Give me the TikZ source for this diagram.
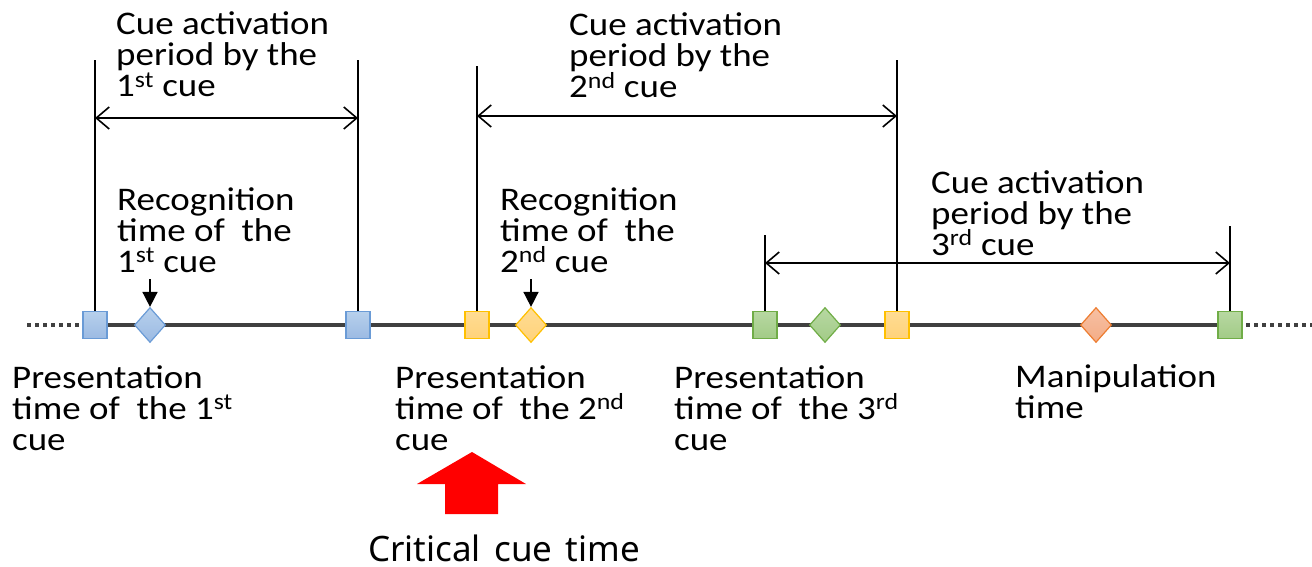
\documentclass[tikz,border=0pt]{standalone}
\usepackage{fontspec}
\setmainfont{Carlito}[FakeStretch=1.12]
\newfontfamily\critfont{Noto Sans}
\usetikzlibrary{arrows.meta,shapes.geometric}

\definecolor{tlgray}{HTML}{404040}
\definecolor{bluefillA}{HTML}{B7D0EC}
\definecolor{bluefillB}{HTML}{9BBAE3}
\definecolor{blueedge}{HTML}{6A9BD6}
\definecolor{yelfillA}{HTML}{FFDC93}
\definecolor{yelfillB}{HTML}{FFD27A}
\definecolor{yeledge}{HTML}{FFC000}
\definecolor{grnfillA}{HTML}{B7D8A2}
\definecolor{grnfillB}{HTML}{A2CB87}
\definecolor{grnedge}{HTML}{70AD47}
\definecolor{orgfillA}{HTML}{F7C0A3}
\definecolor{orgfillB}{HTML}{F3AC86}
\definecolor{orgedge}{HTML}{ED7D31}
\definecolor{bigred}{HTML}{FF0000}

\begin{document}
\begin{tikzpicture}[x=1pt,y=-1pt,
  lbl/.style={anchor=base west, inner sep=0pt, align=left,
              font=\fontsize{33}{31}\selectfont},
  sqbox/.style={rectangle, minimum width=24pt, minimum height=27pt,
                inner sep=0pt, line width=1.2pt},
  dmbox/.style={diamond, minimum width=31pt, minimum height=35pt,
                inner sep=0pt, line width=1.2pt},
  cblue/.style={draw=blueedge, top color=bluefillA, bottom color=bluefillB},
  cyel/.style={draw=yeledge, top color=yelfillA, bottom color=yelfillB},
  cgrn/.style={draw=grnedge, top color=grnfillA, bottom color=grnfillB},
  corg/.style={draw=orgedge, top color=orgfillA, bottom color=orgfillB},
  tline/.style={draw=tlgray, line width=4pt},
  dotline/.style={draw=tlgray, line width=4pt, dash pattern=on 4pt off 4pt},
  vline/.style={draw=black, line width=1.2pt},
  darr/.style={draw=black, line width=1.6pt,
               {Straight Barb[length=13pt,width=22pt]}-{Straight Barb[length=13pt,width=22pt]}},
  downarr/.style={draw=black, line width=1.6pt, -{Triangle[length=15pt,width=15pt]}}
]
\useasboundingbox (0,0) rectangle (1312,567);

% positions of the events on the time axis
\coordinate (p1) at (95,325);
\coordinate (p2) at (358,325);
\coordinate (p3) at (477,325);
\coordinate (p4) at (765,325);
\coordinate (p5) at (897,325);
\coordinate (p6) at (1230,325);
\coordinate (q1) at (150,325);
\coordinate (q2) at (531,325);
\coordinate (q3) at (825,325);
\coordinate (q4) at (1096,325);
\coordinate (axL) at (27,325);
\coordinate (axR) at (1312,325);

% time axis
\draw[dotline] (axL) -- (p1);
\draw[tline] (p1) -- (p6);
\draw[dotline] (p6) -- (axR);

% event markers
\node[sqbox,cblue] (s1) at (p1) {};
\node[dmbox,cblue] (d1) at (q1) {};
\node[sqbox,cblue] (s2) at (p2) {};
\node[sqbox,cyel]  (s3) at (p3) {};
\node[dmbox,cyel]  (d2) at (q2) {};
\node[sqbox,cgrn]  (s4) at (p4) {};
\node[dmbox,cgrn]  (d3) at (q3) {};
\node[sqbox,cyel]  (s5) at (p5) {};
\node[dmbox,corg]  (d4) at (q4) {};
\node[sqbox,cgrn]  (s6) at (p6) {};

% upper ends of the period boundaries
\coordinate (v1) at (95,60);
\coordinate (v2) at (358,60);
\coordinate (v3) at (477,66);
\coordinate (v5) at (897,60);
\coordinate (v4) at (765,235);
\coordinate (v6) at (1230,226);

\draw[vline] (s1.north) -- (v1);
\draw[vline] (s2.north) -- (v2);
\draw[vline] (s3.north) -- (v3);
\draw[vline] (s5.north) -- (v5);
\draw[vline] (s4.north) -- (v4);
\draw[vline] (s6.north) -- (v6);

% activation periods
\coordinate (a1l) at (95,118);
\coordinate (a1r) at (358,118);
\coordinate (a2l) at (477,116);
\coordinate (a2r) at (897,116);
\coordinate (a3l) at (765,263);
\coordinate (a3r) at (1230,263);
\draw[darr] (a1l) -- (a1r);
\draw[darr] (a2l) -- (a2r);
\draw[darr] (a3l) -- (a3r);

% recognition pointers
\coordinate (r1) at (150,279);
\coordinate (r2) at (531,279);
\draw[downarr] (r1) -- (d1.north);
\draw[downarr] (r2) -- (d2.north);

% labels (anchored at the baseline of their last line)
\node[lbl] (t1) at (116,97) {Cue activation\\period by the\\1\textsuperscript{st} cue};
\node[lbl] (t2) at (569,98) {Cue activation\\period by the\\2\textsuperscript{nd} cue};
\node[lbl] (t3) at (931,255) {Cue activation\\period by the\\3\textsuperscript{rd} cue};
\node[lbl] (t4) at (117,272) {Recognition\\time of~ the\\1\textsuperscript{st} cue};
\node[lbl] (t5) at (500,272) {Recognition\\time of~ the\\2\textsuperscript{nd} cue};
\node[lbl] (t6) at (12,450) {Presentation\\time of~ the 1\textsuperscript{st}\\cue};
\node[lbl] (t7) at (395,450) {Presentation\\time of~ the 2\textsuperscript{nd}\\cue};
\node[lbl] (t8) at (674,450) {Presentation\\time of~ the 3\textsuperscript{rd}\\cue};
\node[lbl] (t9) at (1015,418) {Manipulation\\time};

% critical cue marker
\fill[bigred] (445,514) -- (445,484) -- (417,484) -- (472,452)
  -- (526,484) -- (498,484) -- (498,514) -- cycle;
\node[anchor=base west, inner sep=0pt, font=\critfont\fontsize{35}{35}\selectfont]
  (crit) at (368,561) {Critical\hspace{0.12em} cue\hspace{0.12em} time};
\end{tikzpicture}
\end{document}
